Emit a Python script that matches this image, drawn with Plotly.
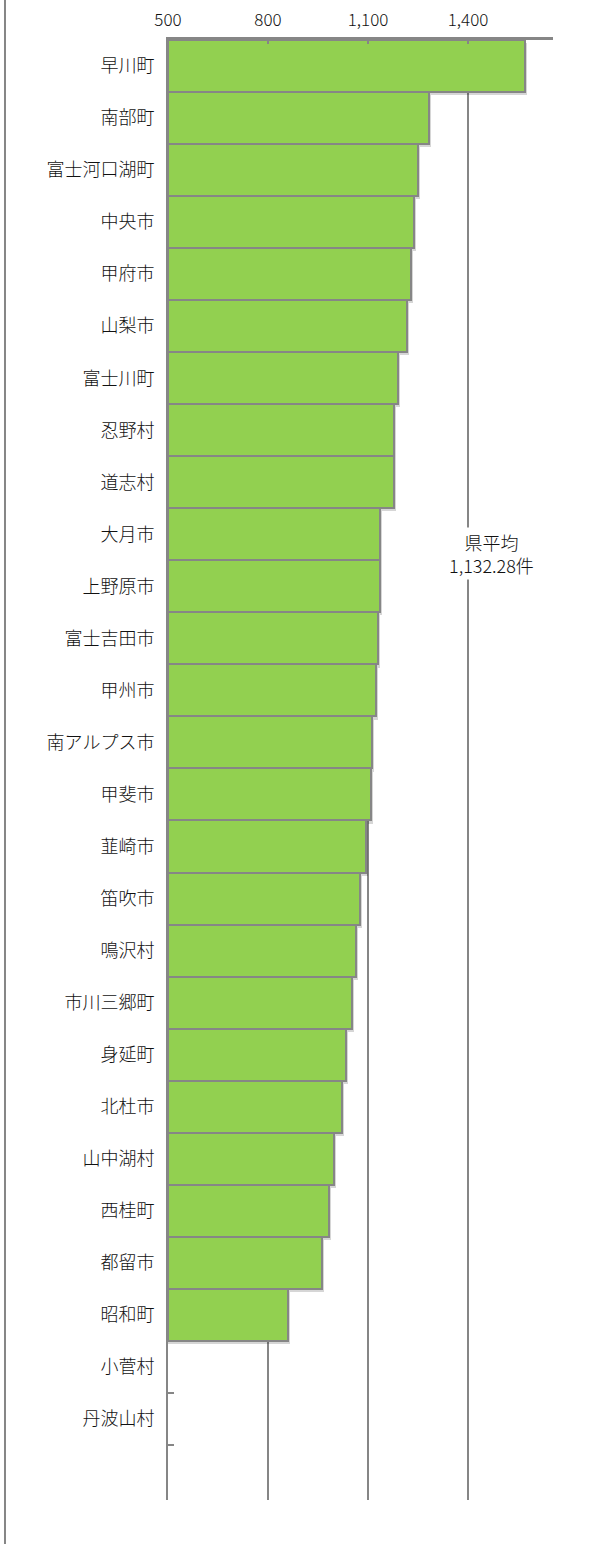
import plotly.graph_objects as go

categories = ["早川町", "南部町", "富士河口湖町", "中央市", "甲府市", "山梨市", "富士川町",
              "忍野村", "道志村", "大月市", "上野原市", "富士吉田市", "甲州市", "南アルプス市",
              "甲斐市", "韮崎市", "笛吹市", "鳴沢村", "市川三郷町", "身延町", "北杜市",
              "山中湖村", "西桂町", "都留市", "昭和町", "小菅村", "丹波山村", " "]
values = [1572, 1282, 1249, 1237, 1229, 1217, 1190,
          1178, 1178, 1136, 1136, 1130, 1124, 1112,
          1108, 1094, 1076, 1064, 1053, 1034, 1022,
          998, 983, 962, 860, None, None, None]
axis_min = 500
x_ticks = [500, 800, 1100, 1400]
x_tick_labels = ["500", "800", "1,100", "1,400"]
avg_label = "県平均<br>1,132.28件"
avg_pos = 1469

font_family = "Noto Sans CJK JP"
gray = "#868686"
text_color = "#111"

lengths = [None if v is None else v - axis_min for v in values]

fig = go.Figure()
# soft drop shadow behind bars
fig.add_trace(go.Bar(
    y=categories, x=[None if l is None else l + 6 for l in lengths],
    orientation="h", base=axis_min, offset=-0.44, width=1,
    marker=dict(color="rgba(0,0,0,0.16)", line=dict(width=0)),
    showlegend=False, hoverinfo="skip",
))
fig.add_trace(go.Bar(
    y=categories, x=lengths, orientation="h",
    base=axis_min, offset=-0.5, width=1,
    marker=dict(color="#92D050", line=dict(color=gray, width=2)),
    showlegend=False,
))

fig.update_layout(
    width=599, height=1544,
    margin=dict(l=168, r=46, t=40, b=44),
    paper_bgcolor="white", plot_bgcolor="white",
    barmode="overlay", bargap=0,
    font=dict(family=font_family, size=18, color=text_color, weight=300),
    xaxis=dict(
        side="top", range=[500, 1655],
        tickvals=x_ticks, ticktext=x_tick_labels,
        showgrid=True, gridcolor=gray, gridwidth=1.5,
        showline=True, linecolor=gray, linewidth=3,
        ticks="inside", ticklen=4, tickwidth=2, tickcolor=gray,
        zeroline=False, fixedrange=True, automargin=False,
        ticklabelstandoff=4,
        tickfont=dict(size=17, color=text_color, weight=300),
    ),
    yaxis=dict(
        categoryorder="array", categoryarray=categories,
        autorange="reversed", automargin=False,
        showline=True, linecolor=gray, linewidth=2,
        ticks="inside", ticklen=6, tickwidth=2, tickcolor=gray,
        tickson="boundaries", showgrid=False,
        ticklabelstandoff=8,
        tickfont=dict(size=18, color=text_color, weight=300),
    ),
    annotations=[dict(
        x=avg_pos, xref="x", y=0.648, yref="paper",
        text=avg_label, showarrow=False,
        font=dict(size=18, color=text_color, weight=300),
        bgcolor="white", align="center",
    )],
    shapes=[dict(type="line", xref="paper", yref="paper",
                 x0=-0.4234, x1=-0.4234, y0=-0.04, y1=1.04,
                 line=dict(color=gray, width=2))],
)

fig.write_html("out.html", config={"displayModeBar": False},
               post_script="document.body.style.margin='0';")
